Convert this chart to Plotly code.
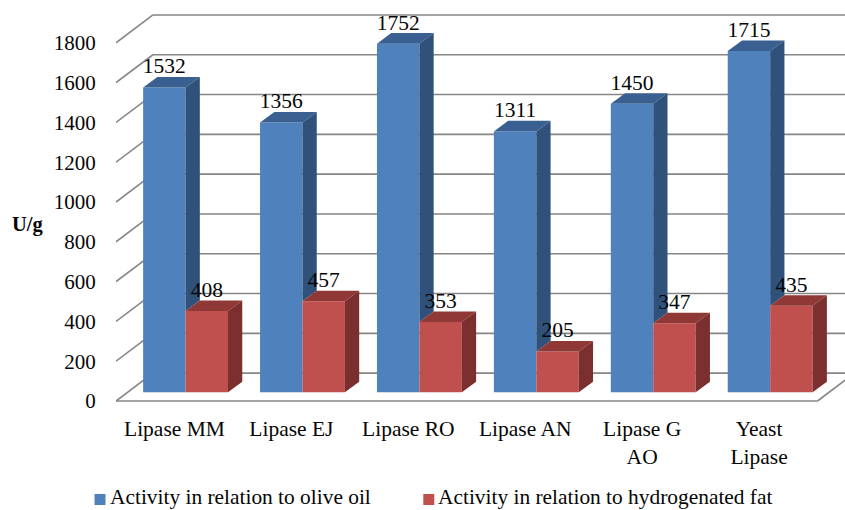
import plotly.graph_objects as go

categories = ["Lipase MM", "Lipase EJ", "Lipase RO", "Lipase AN", "Lipase G<br>AO", "Yeast<br>Lipase"]
olive_oil = [1532, 1356, 1752, 1311, 1450, 1715]
hydrogenated_fat = [408, 457, 353, 205, 347, 435]
y_ticks = [0, 200, 400, 600, 800, 1000, 1200, 1400, 1600, 1800]
series_names = ["Activity in relation to olive oil", "Activity in relation to hydrogenated fat"]

FONT = "Liberation Serif"
INK = "#050505"
W, H = 845, 510
# wall / bar depth, in axis units
WALL_DX, WALL_DY = 0.316, 140
BAR_DX, BAR_DY = 0.122, 53
BASE = 43.7
BAR_W = 0.363
BLUE_L, RED_L = -0.268, 0.095
BLUE, BLUE_SIDE, BLUE_TOP = "#4F81BD", "#30527A", "#3A6092"
RED, RED_SIDE, RED_TOP = "#C0504D", "#7B302F", "#8F3836"
GRID = "#868686"

xs = list(range(len(categories)))
fig = go.Figure()


def poly(x, y, color):
    fig.add_trace(go.Scatter(x=x + x[:1], y=y + y[:1], mode="lines", fill="toself",
                             fillcolor=color, line=dict(width=0, color=color),
                             showlegend=False, hoverinfo="skip"))


fig.add_trace(go.Bar(x=xs, y=olive_oil, base=BASE, width=BAR_W, offset=BLUE_L,
                     marker=dict(color=BLUE, line=dict(width=0)), name=series_names[0], showlegend=False))
fig.add_trace(go.Bar(x=xs, y=hydrogenated_fat, base=BASE, width=BAR_W, offset=RED_L,
                     marker=dict(color=RED, line=dict(width=0)), name=series_names[1], showlegend=False))

for i, (a, b) in enumerate(zip(olive_oil, hydrogenated_fat)):
    t_a, t_b = a + BASE, b + BASE
    l_a, r_a = i + BLUE_L, i + BLUE_L + BAR_W
    l_b, r_b = i + RED_L, i + RED_L + BAR_W
    poly([l_a, r_a, r_a + BAR_DX, l_a + BAR_DX], [t_a, t_a, t_a + BAR_DY, t_a + BAR_DY], BLUE_TOP)
    poly([r_a, r_a + BAR_DX, r_a + BAR_DX, r_a], [t_a, t_a + BAR_DY, t_b + BAR_DY, t_b], BLUE_SIDE)
    poly([l_b, r_b, r_b + BAR_DX, l_b + BAR_DX], [t_b, t_b, t_b + BAR_DY, t_b + BAR_DY], RED_TOP)
    poly([r_b, r_b + BAR_DX, r_b + BAR_DX, r_b], [t_b, t_b + BAR_DY, BASE + BAR_DY, BASE], RED_SIDE)

# value labels
fig.add_trace(go.Scatter(
    x=[i + BLUE_L + BAR_W / 2 for i in xs] + [i + RED_L + BAR_W / 2 for i in xs],
    y=[v + BASE + 98 for v in olive_oil] + [v + BASE + 98 for v in hydrogenated_fat],
    text=[str(v) for v in olive_oil + hydrogenated_fat],
    mode="text", textposition="middle center",
    textfont=dict(family=FONT, size=21.5, color=INK),
    showlegend=False, hoverinfo="skip"))

# 3D walls: oblique and back gridlines, floor outline
shapes = []
x0, x1 = -0.5, len(categories) - 0.5
for t in y_ticks:
    shapes.append(dict(type="line", xref="x", yref="y", layer="below", x0=x0, y0=t,
                       x1=x0 + WALL_DX, y1=t + WALL_DY, line=dict(color=GRID, width=1.6)))
    shapes.append(dict(type="line", xref="x", yref="y", layer="below", x0=x0 + WALL_DX, y0=t + WALL_DY,
                       x1=x1 + WALL_DX, y1=t + WALL_DY, line=dict(color=GRID, width=1.6)))
shapes.append(dict(type="line", xref="x", yref="y", layer="below", x0=x0, y0=0, x1=x1, y1=0,
                   line=dict(color=GRID, width=1.6)))
shapes.append(dict(type="line", xref="x", yref="y", layer="below", x0=x1, y0=0, x1=x1 + WALL_DX, y1=WALL_DY,
                   line=dict(color=GRID, width=1.6)))

# legend swatches (pixel positions as paper fractions)
for px, color in ((94, BLUE), (423, RED)):
    shapes.append(dict(type="rect", xref="paper", yref="paper", layer="above",
                       x0=(px - 115.5) / 729.5, x1=(px + 11 - 115.5) / 729.5,
                       y0=(403 - 505) / 400, y1=(403 - 494) / 400,
                       fillcolor=color, line=dict(width=0)))

annotations = [
    dict(text="<b>U/g</b>", xref="paper", yref="paper", x=(27.5 - 115.5) / 729.5, y=(403 - 224) / 400,
         xanchor="center", yanchor="middle", showarrow=False, font=dict(family=FONT, size=20.5, color=INK)),
    dict(text=series_names[0], xref="paper", yref="paper", x=(110 - 115.5) / 729.5, xanchor="left",
         y=(403 - 496.5) / 400, yanchor="middle", showarrow=False,
         font=dict(family=FONT, size=21.4, color=INK), xshift=-3),
    dict(text=series_names[1], xref="paper", yref="paper", x=(439 - 115.5) / 729.5, xanchor="left",
         y=(403 - 496.5) / 400, yanchor="middle", showarrow=False,
         font=dict(family=FONT, size=21.4, color=INK), xshift=-3),
]

fig.update_layout(
    width=W, height=H, autosize=False,
    margin=dict(l=115.5, r=0, t=3.2, b=107),
    plot_bgcolor="white", paper_bgcolor="white",
    barmode="overlay", showlegend=False,
    shapes=shapes, annotations=annotations,
    font=dict(family=FONT, size=21, color=INK),
    xaxis=dict(range=[-0.5, 5.735], tickvals=xs, ticktext=categories, showgrid=False, zeroline=False,
               showline=False, ticks="outside", ticklen=6, tickcolor="rgba(0,0,0,0)",
               tickfont=dict(family=FONT, size=21.5, color=INK)),
    yaxis=dict(range=[-10, 2000], tickvals=y_ticks, showgrid=False, zeroline=False, showline=False,
               ticks="outside", ticklen=15, tickcolor="rgba(0,0,0,0)",
               tickfont=dict(family=FONT, size=21, color=INK)),
)

fig.write_html("out.html", config=dict(displayModeBar=False),
               post_script="document.body.style.margin='0';document.body.style.overflow='hidden';")
